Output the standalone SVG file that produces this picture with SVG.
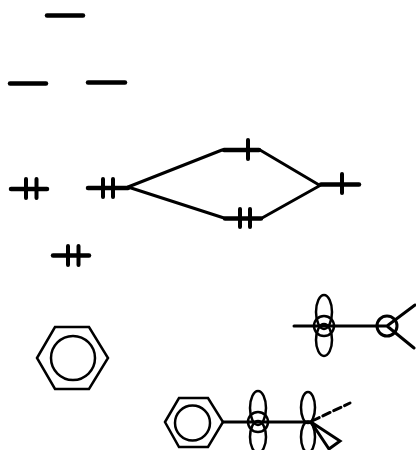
<svg xmlns="http://www.w3.org/2000/svg" width="416" height="450" viewBox="0 0 416 450">
<style>
.lv{stroke:#000;stroke-width:4.500;stroke-linecap:round;fill:none}
.tk{stroke:#000;stroke-width:4;stroke-linecap:round;fill:none}
.cn{stroke:#000;stroke-width:3;fill:none;stroke-linecap:round}
.sh{stroke:#000;stroke-width:2.500;fill:none}
</style>
<rect width="416" height="450" fill="#fff"/>
<g id="connectors">
<path class="cn" d="M128 187L222 150M260 150L320 185.500M128 187L224 218M262 218L320 185.500"/>
</g>
<g id="level-top"><path class="lv" d="M47 15.500H83"/></g>
<g id="level-2l"><path class="lv" d="M10 83.500H46"/></g>
<g id="level-2r"><path class="lv" d="M88 82.500H125"/></g>
<g id="level-3l"><path class="lv" d="M11 189H47"/><path class="tk" d="M26 179V198M36.500 179V198"/></g>
<g id="level-3r"><path class="lv" d="M88 188H128"/><path class="tk" d="M103 179V197M113 179V197"/></g>
<g id="level-4"><path class="lv" d="M53 255.500H89"/><path class="tk" d="M68 246V265M78.500 246V265"/></g>
<g id="mo-upper"><path class="lv" d="M224 150H259"/><path class="tk" d="M248 140V159"/></g>
<g id="mo-lower"><path class="lv" d="M225 218.500H261"/><path class="tk" d="M240 209V227M250 209V227"/></g>
<g id="level-right"><path class="lv" d="M321 184.500H359"/><path class="tk" d="M342 174V193"/></g>
<g id="benzene">
<path class="sh" d="M37 358L55 327H89L108 358L89 389H55Z" stroke-width="3"/>
<circle class="sh" cx="73" cy="358" r="22"/>
</g>
<g id="radical">
<path class="cn" d="M294 326H387L415 305M387 326L414 348"/>
<ellipse class="sh" cx="324" cy="312" rx="8" ry="17"/>
<ellipse class="sh" cx="324" cy="340" rx="8" ry="16"/>
<circle class="sh" cx="324" cy="326" r="10"/>
<circle class="cn" cx="387" cy="326" r="10"/>
</g>
<g id="benzyl">
<path class="sh" d="M165 422L179 398H208L223 422L208 447H179Z" stroke-width="3"/>
<circle class="sh" cx="192.500" cy="423" r="17.500"/>
<path class="cn" d="M223 422H310"/>
<ellipse class="sh" cx="258" cy="408" rx="8" ry="17"/>
<ellipse class="sh" cx="258" cy="437" rx="8" ry="16"/>
<circle class="sh" cx="258" cy="422" r="10"/>
<ellipse class="sh" cx="308" cy="407.500" rx="7" ry="15.500"/>
<ellipse class="sh" cx="308" cy="437" rx="7" ry="15.500"/>
<path class="cn" d="M312 421L350 403" stroke-dasharray="8 4"/>
<path class="cn" d="M311 422L340 441L329 449Z"/>
</g>
</svg>
